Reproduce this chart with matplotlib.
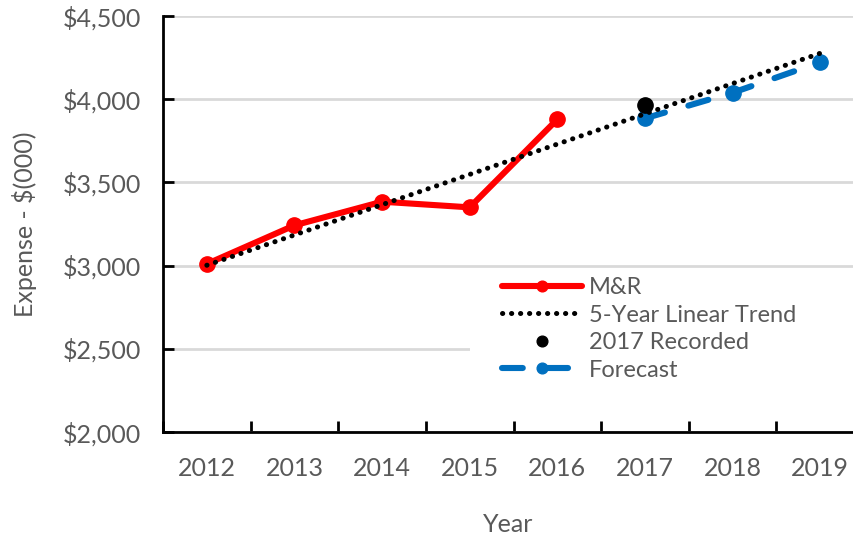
import matplotlib.pyplot as plt
from matplotlib.patches import Rectangle
from matplotlib.ticker import FuncFormatter, FixedLocator

plt.rcParams['font.family'] = ['Lato', 'DejaVu Sans']

# Datos
years = ['2012', '2013', '2014', '2015', '2016', '2017', '2018', '2019']
mr_values = [3010, 3242, 3384, 3350, 3879]          # 2012-2016
trend_ends = [3002, 4276]                            # tendencia lineal 2012 -> 2019
recorded_2017 = [3963]
forecast_values = [3885, 4039, 4222]                 # 2017-2019

gray = '#595959'
fs = 18

fig = plt.figure(figsize=(8.54, 5.39), dpi=100)
ax = fig.add_axes([163 / 854, 1 - 432 / 539, 1 - 163 / 854, (432 - 16) / 539])

x = list(range(len(years)))

# Serie M&R
ax.plot(x[:5], mr_values, color='#FF0000', lw=4.4, marker='o', ms=11,
        solid_capstyle='round', label='M&R', zorder=3)

# Pronóstico
fc, = ax.plot(x[5:], forecast_values, color='#0070C0', lw=4.4, marker='o', ms=11,
              dash_capstyle='round', label='Forecast', zorder=3)
fc.set_dashes((3.4, 4.0))

# Tendencia lineal de 5 años
tr, = ax.plot([x[0], x[-1]], trend_ends, color='black', lw=3.6,
              dash_capstyle='round', label='5-Year Linear Trend', zorder=4)
tr.set_dashes((0.05, 1.75))

# Valor registrado 2017
ax.plot([x[5]], recorded_2017, 'o', color='black', ms=11, lw=0,
        label='2017 Recorded', zorder=5)

ax.set_ylim(2000, 4500)
ax.set_xlim(-0.5, 7.5 - 10 / 87.4)
ax.set_yticks(range(2000, 4501, 500))
ax.yaxis.set_major_formatter(FuncFormatter(lambda v, p: '${:,.0f}'.format(v)))
ax.set_xticks(x)
ax.set_xticklabels(years)
ax.xaxis.set_minor_locator(FixedLocator([i + 0.5 for i in range(-1, 8)]))

ax.grid(axis='y', color='#d9d9d9', lw=2)
ax.set_axisbelow(True)
for s in ['top', 'right']:
    ax.spines[s].set_visible(False)
for s in ['left', 'bottom']:
    ax.spines[s].set_linewidth(2)
    ax.spines[s].set_color('black')

ax.tick_params(axis='y', direction='in', length=8, width=2, labelsize=fs,
               labelcolor=gray, pad=16)
ax.tick_params(axis='x', which='major', length=0, labelsize=fs,
               labelcolor=gray, pad=18)
ax.tick_params(axis='x', which='minor', direction='in', length=8, width=2)

ax.set_ylabel('Expense - $(000)', fontsize=fs, color=gray, labelpad=18)
ax.set_xlabel('Year', fontsize=fs, color=gray, labelpad=24)

# Fondo blanco detrás de la leyenda
ax.add_patch(Rectangle((470 / 854, 1 - 392 / 539), 384 / 854, 120 / 539,
                       transform=fig.transFigure, facecolor='white',
                       edgecolor='none', zorder=1.5))

handles, labels = ax.get_legend_handles_labels()
order = [labels.index(n) for n in ['M&R', '5-Year Linear Trend', '2017 Recorded', 'Forecast']]
leg = ax.legend([handles[i] for i in order], [labels[i] for i in order],
                loc='upper left', bbox_to_anchor=(483 / 854, 1 - 258 / 539),
                bbox_transform=fig.transFigure, frameon=False,
                fontsize=fs - 1, handlelength=3.4, handletextpad=0.3,
                labelspacing=0.28, markerscale=0.7, borderpad=0.3)
for t in leg.get_texts():
    t.set_color(gray)

fig.savefig('out.png', dpi=100)
